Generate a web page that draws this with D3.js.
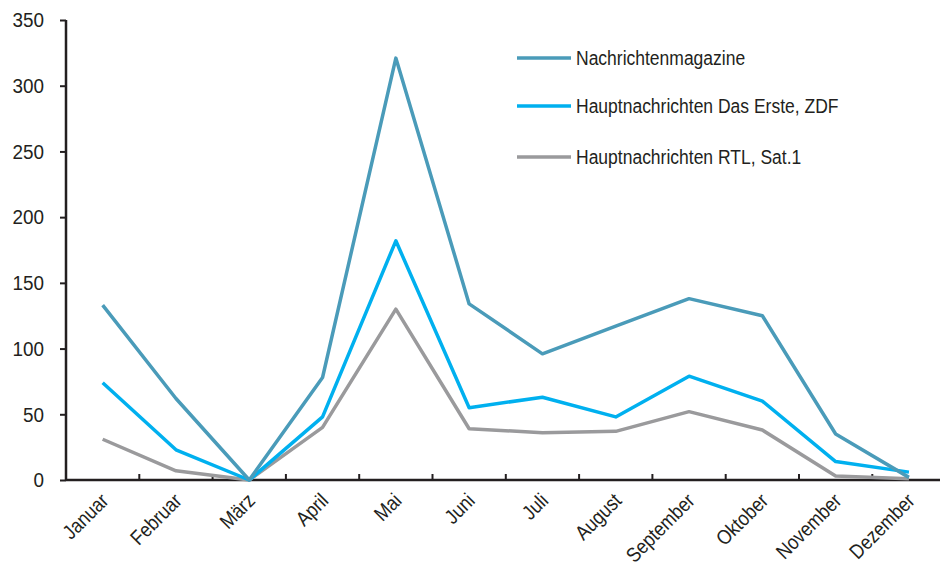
<!DOCTYPE html>
<html><head><meta charset="utf-8">
<script src="https://cdn.jsdelivr.net/npm/d3@7"></script>
<style>
html,body{margin:0;padding:0;background:#fff;}
text{font-family:"Liberation Sans",Arial,sans-serif;fill:#231f20;}
</style></head>
<body><svg id="c" width="940" height="566"></svg>
<script>
const months = ["Januar","Februar","März","April","Mai","Juni","Juli","August","September","Oktober","November","Dezember"];
const seriesNames = ["Nachrichtenmagazine","Hauptnachrichten Das Erste, ZDF","Hauptnachrichten RTL, Sat.1"];
const magazine = [133,62,0,78,321,134,96,117,138,125,35,2];
const ersteZdf = [74,23,0,48,182,55,63,48,79,60,14,6];
const rtlSat1  = [31,7,0,40,130,39,36,37,52,38,3,1];
const yTicks = [0,50,100,150,200,250,300,350];
const colors = ["#4a9bb9","#00b0ef","#9a9a9c"];

const svg = d3.select("#c");
const x = d3.scaleBand().domain(months).range([66, 66 + 12*73.3]);
const y = d3.scaleLinear().domain([0,350]).range([480, 20]);

// y axis
const ya = svg.append("g").attr("transform","translate(66,0)")
  .call(d3.axisLeft(y).tickValues(yTicks).tickSize(6).tickPadding(16));
ya.select(".domain").attr("stroke","#231f20").attr("stroke-width",2.5).attr("d","M0,20V480");
ya.selectAll(".tick line").attr("stroke","#231f20").attr("stroke-width",2);
ya.selectAll(".tick text").style("font-size","21px").attr("fill","#231f20")
  .attr("x",0).attr("transform","translate(-22,0) scale(0.9,1)");

// x axis
const xa = svg.append("g").attr("transform","translate(0,480)");
xa.append("line").attr("x1",66).attr("x2",940).attr("y1",0).attr("y2",0)
  .attr("stroke","#231f20").attr("stroke-width",2.5);
xa.selectAll("line.tk").data(months.slice(1)).enter().append("line").attr("class","tk")
  .attr("x1",d=>x(d)).attr("x2",d=>x(d)).attr("y1",0).attr("y2",-6)
  .attr("stroke","#231f20").attr("stroke-width",2);
xa.selectAll("text.lb").data(months).enter().append("text").attr("class","lb")
  .attr("text-anchor","end")
  .attr("transform",d=>`translate(${x(d)+x.bandwidth()/2+7},${22}) rotate(-45) scale(0.87,1)`)
  .style("font-size","20.5px").text(d=>d);

const data = [magazine, ersteZdf, rtlSat1];
const line = d3.line().x((d,i)=>x(months[i])+x.bandwidth()/2).y(d=>y(d));
[2,1,0].forEach(k=>{
  svg.append("path").attr("d",line(data[k])).attr("fill","none")
    .attr("stroke",colors[k]).attr("stroke-width",3.5).attr("stroke-linejoin","round");
});

// legend
const lg = svg.append("g");
const ly = [58,106,157];
seriesNames.forEach((n,i)=>{
  lg.append("line").attr("x1",517).attr("x2",571).attr("y1",ly[i]).attr("y2",ly[i])
    .attr("stroke",colors[i]).attr("stroke-width",3.5);
  lg.append("text").attr("transform",`translate(576,${ly[i]+7}) scale(0.875,1)`)
    .style("font-size","20px").text(n);
});
</script></body></html>
